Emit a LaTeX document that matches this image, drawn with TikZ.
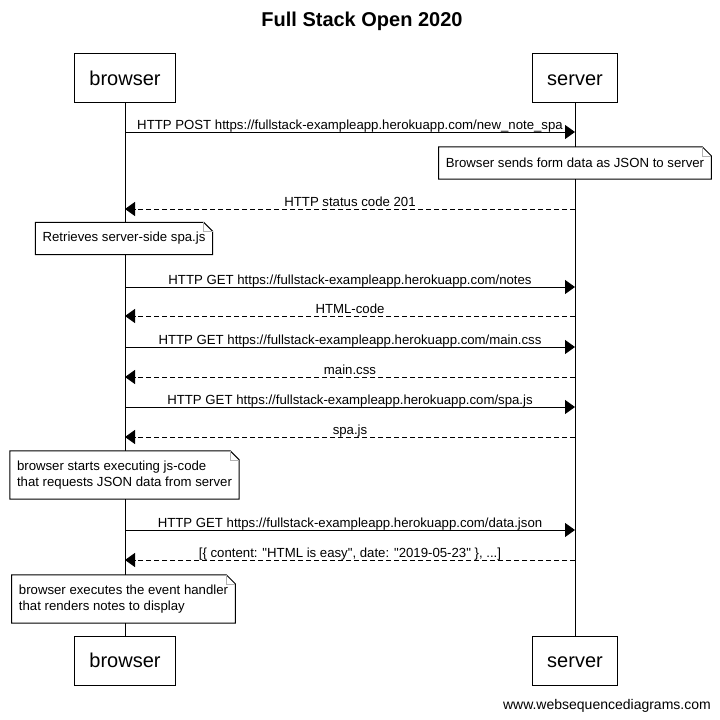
\documentclass[tikz,border=0pt]{standalone}
\usepackage{fontspec}
\setmainfont{Liberation Sans}
\usetikzlibrary{arrows.meta}

\tikzset{
  actor/.style={draw, line width=1pt, inner xsep=15pt, minimum height=49pt,
    text height=14.5pt, text depth=0pt, font=\fontsize{20}{24}\selectfont},
  msg/.style={line width=1pt, -{Triangle[length=10pt,width=14pt]}},
  reply/.style={msg, dash pattern=on 5pt off 3pt},
  lbl/.style={anchor=base, yshift=3pt, inner sep=0pt, font=\fontsize{13.2}{16}\selectfont},
  note/.style={fill=white, inner xsep=7pt, align=left, minimum height=32pt,
    font=\fontsize{13.2}{16}\selectfont},
}

\begin{document}
\begin{tikzpicture}[x=1pt,y=-1pt]
  \useasboundingbox (0,0) rectangle (720,720);
  \node[font=\bfseries\fontsize{20}{24}\selectfont] (title) at (362,21) {Full Stack Open 2020};

  % participants
  \node[actor] (browser) at (125,78) {browser};
  \node[actor] (server) at (575,78) {server};
  \node[actor] (browserend) at (125,660.5) {browser};
  \node[actor] (serverend) at (575,660.5) {server};
  \draw[line width=1pt] (browser) -- (browserend);
  \draw[line width=1pt] (server) -- (serverend);

  \foreach \n/\y in {1/132,2/209,3/287,4/316,5/347,6/377,7/407,8/437,9/530,10/560} {
    \coordinate (b\n) at (125,\y);
    \coordinate (s\n) at (575,\y);
  }

  % messages
  \draw[msg] (b1) -- node[lbl] {HTTP POST https://fullstack-exampleapp.herokuapp.com/new\_note\_spa} (s1);
  \draw[reply] (s2) -- node[lbl] {HTTP status code 201} (b2);
  \draw[msg] (b3) -- node[lbl] {HTTP GET https://fullstack-exampleapp.herokuapp.com/notes} (s3);
  \draw[reply] (s4) -- node[lbl] {HTML-code} (b4);
  \draw[msg] (b5) -- node[lbl] {HTTP GET https://fullstack-exampleapp.herokuapp.com/main.css} (s5);
  \draw[reply] (s6) -- node[lbl] {main.css} (b6);
  \draw[msg] (b7) -- node[lbl] {HTTP GET https://fullstack-exampleapp.herokuapp.com/spa.js} (s7);
  \draw[reply] (s8) -- node[lbl] {spa.js} (b8);
  \draw[msg] (b9) -- node[lbl] {HTTP GET https://fullstack-exampleapp.herokuapp.com/data.json} (s9);
  \draw[reply] (s10) -- node[lbl] {[\{ content: \textquotedbl HTML is easy\textquotedbl, date: \textquotedbl 2019-05-23\textquotedbl\ \}, ...]} (b10);

  % notes
  \node[note] (sendnote) at (575,163) {Browser sends form data as JSON to server};
  \node[note] (spanote) at (124,238.5) {Retrieves server-side spa.js};
  \node[note, minimum height=48pt] (jsnote) at (124.5,475)
    {browser starts executing js-code\\that requests JSON data from server};
  \node[note, minimum height=48pt] (rendernote) at (123.5,599)
    {browser executes the event handler\\that renders notes to display};
  \foreach \n in {sendnote,spanote,jsnote,rendernote} {
    \draw[line width=1pt] (\n.north west) -- ([xshift=-9pt]\n.north east)
      -- ([yshift=-9pt]\n.north east) -- (\n.south east) -- (\n.south west) -- cycle;
    \draw[gray!60] ([xshift=-9pt]\n.north east) |- ([yshift=-9pt]\n.north east);
  }

  \node[anchor=base east, inner sep=0pt, font=\fontsize{14}{16}\selectfont] (credit)
    at (711,709) {www.websequencediagrams.com};
\end{tikzpicture}
\end{document}
